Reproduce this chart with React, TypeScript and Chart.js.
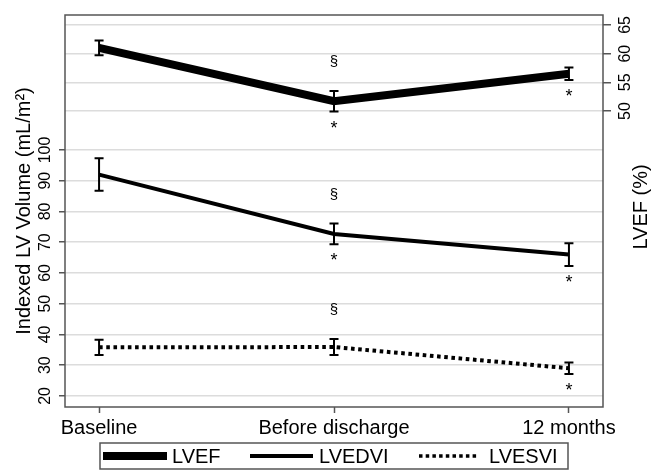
import React, { useEffect, useRef } from "react";
import { Chart, registerables } from "chart.js";

Chart.register(...registerables);

// ---- data ----
const categories = ["Baseline", "Before discharge", "12 months"];
const seriesNames = ["LVEF", "LVEDVI", "LVESVI"];

const lvef = [61.0, 51.7, 56.5];
const lvefErr = [1.3, 1.8, 1.1];
const lvedvi = [92.0, 72.7, 66.0];
const lvedviErr = [5.3, 3.4, 3.7];
const lvesvi = [35.8, 35.9, 29.0];
const lvesviErr = [2.5, 2.6, 1.9];

const leftTicks = [20, 30, 40, 50, 60, 70, 80, 90, 100];
const rightTicks = [50, 55, 60, 65];

// significance markers: "§" above, "*" below
const lvefSection = [false, true, false];
const lvefStar = [false, true, true];
const lvedviSection = [false, true, false];
const lvedviStar = [false, true, true];
const lvesviSection = [false, true, false];
const lvesviStar = [false, false, true];

const FONT = '"Liberation Sans", Arial, Helvetica, sans-serif';

const errors = [lvefErr, lvedviErr, lvesviErr];
const sections = [lvefSection, lvedviSection, lvesviSection];
const stars = [lvefStar, lvedviStar, lvesviStar];

const overlay = {
  id: "overlay",
  afterDatasetsDraw(chart: any) {
    const ctx = chart.ctx;
    const xs = chart.scales.x;
    chart.data.datasets.forEach((ds: any, di: number) => {
      const ys = chart.scales[ds.yAxisID];
      ds.data.forEach((p: any, i: number) => {
        const e = errors[di][i];
        const x = xs.getPixelForValue(p.x);
        const top = ys.getPixelForValue(p.y + e);
        const bot = ys.getPixelForValue(p.y - e);
        ctx.save();
        ctx.strokeStyle = "#000";
        ctx.lineWidth = 2;
        ctx.setLineDash([]);
        ctx.beginPath();
        ctx.moveTo(x, top);
        ctx.lineTo(x, bot);
        ctx.moveTo(x - 4.5, top);
        ctx.lineTo(x + 4.5, top);
        ctx.moveTo(x - 4.5, bot);
        ctx.lineTo(x + 4.5, bot);
        ctx.stroke();
        ctx.fillStyle = "#000";
        ctx.textAlign = "center";
        ctx.textBaseline = "middle";
        if (sections[di][i]) {
          ctx.font = `15px ${FONT}`;
          ctx.fillText("§", x, top - 29);
        }
        if (stars[di][i]) {
          ctx.font = `18px ${FONT}`;
          ctx.fillText("*", x, bot + 17);
        }
        ctx.restore();
      });
    });
  },
  afterDraw(chart: any) {
    const ctx = chart.ctx;
    const a = chart.chartArea;
    const yl = chart.scales.y;
    const yr = chart.scales.y1;
    ctx.save();
    // frame
    ctx.strokeStyle = "#555";
    ctx.lineWidth = 1.5;
    ctx.strokeRect(a.left, a.top, a.right - a.left, a.bottom - a.top);

    ctx.fillStyle = "#000";
    ctx.textAlign = "center";
    ctx.textBaseline = "middle";
    // left tick labels (rotated)
    ctx.font = `16px ${FONT}`;
    yl.ticks.forEach((t: any) => {
      const y = yl.getPixelForValue(t.value);
      ctx.save();
      ctx.translate(46, y);
      ctx.rotate(-Math.PI / 2);
      ctx.fillText(String(t.value), 0, 0);
      ctx.restore();
    });
    yr.ticks.forEach((t: any) => {
      const y = yr.getPixelForValue(t.value);
      ctx.save();
      ctx.translate(626, y);
      ctx.rotate(-Math.PI / 2);
      ctx.fillText(String(t.value), 0, 0);
      ctx.restore();
    });
    // titles
    ctx.font = `20px ${FONT}`;
    ctx.save();
    ctx.translate(24, (a.top + a.bottom) / 2);
    ctx.rotate(-Math.PI / 2);
    ctx.fillText("Indexed LV Volume (mL/m²)", 0, 0);
    ctx.restore();
    ctx.save();
    ctx.translate(641, (a.top + a.bottom) / 2 - 4);
    ctx.rotate(-Math.PI / 2);
    ctx.fillText("LVEF (%)", 0, 0);
    ctx.restore();

    // legend
    const lx = 100, ly = 443, lw = 468, lh = 26;
    ctx.strokeStyle = "#555";
    ctx.lineWidth = 1.5;
    ctx.strokeRect(lx, ly, lw, lh);
    const cy = ly + 13;
    const items = [
      { x0: 103, x1: 167, tx: 172, w: 8, dash: [] as number[] },
      { x0: 250, x1: 313, tx: 319, w: 4, dash: [] as number[] },
      { x0: 419, x1: 478, tx: 489, w: 3.5, dash: [3.5, 3.2] },
    ];
    items.forEach((it, i) => {
      ctx.strokeStyle = "#000";
      ctx.lineWidth = it.w;
      ctx.setLineDash(it.dash);
      ctx.beginPath();
      ctx.moveTo(it.x0, cy);
      ctx.lineTo(it.x1, cy);
      ctx.stroke();
      ctx.setLineDash([]);
      ctx.textAlign = "left";
      ctx.font = `20px ${FONT}`;
      ctx.fillText(seriesNames[i], it.tx, cy + 1);
    });
    ctx.restore();
  },
};

export default function App() {
  const ref = useRef<HTMLCanvasElement>(null);
  useEffect(() => {
    document.body.style.margin = "0";
    const toPts = (arr: number[]) => arr.map((v, i) => ({ x: i, y: v }));
    const chart = new Chart(ref.current as HTMLCanvasElement, {
      type: "line",
      data: {
        datasets: [
          {
            label: seriesNames[0],
            data: toPts(lvef),
            yAxisID: "y1",
            borderColor: "#000",
            borderWidth: 8,
            pointRadius: 0,
            fill: false,
            tension: 0,
          },
          {
            label: seriesNames[1],
            data: toPts(lvedvi),
            yAxisID: "y",
            borderColor: "#000",
            borderWidth: 4,
            pointRadius: 0,
            fill: false,
            tension: 0,
          },
          {
            label: seriesNames[2],
            data: toPts(lvesvi),
            yAxisID: "y",
            borderColor: "#000",
            borderWidth: 4,
            borderDash: [3.6, 3.6],
            pointRadius: 0,
            fill: false,
            tension: 0,
          },
        ],
      },
      options: {
        responsive: false,
        animation: false,
        devicePixelRatio: 1,
        layout: { padding: { top: 15, left: 0, right: 0, bottom: 0 } },
        plugins: { legend: { display: false }, tooltip: { enabled: false } },
        scales: {
          x: {
            type: "linear",
            min: -0.145,
            max: 2.145,
            afterBuildTicks: (s: any) => {
              s.ticks = categories.map((_, i) => ({ value: i }));
            },
            afterFit: (s: any) => {
              s.height = 63;
            },
            ticks: {
              callback: (v: any) => categories[Math.round(v)],
              font: { size: 20, family: FONT },
              color: "#000",
              maxRotation: 0,
              minRotation: 0,
              autoSkip: false,
              padding: 3,
            },
            grid: {
              drawOnChartArea: false,
              drawTicks: true,
              tickLength: 6,
              tickColor: "#555",
              tickWidth: 1.5,
            },
            border: { display: false },
          },
          y: {
            type: "linear",
            position: "left",
            min: 16.4,
            max: 143.9,
            afterBuildTicks: (s: any) => {
              s.ticks = leftTicks.map((v) => ({ value: v }));
            },
            afterFit: (s: any) => {
              s.width = 65;
            },
            ticks: { display: false },
            grid: {
              color: "#dcdcdc",
              lineWidth: 1.5,
              tickLength: 6,
              tickColor: "#555",
              tickWidth: 1.5,
            },
            border: { display: false },
          },
          y1: {
            type: "linear",
            position: "right",
            min: -1.63,
            max: 66.74,
            afterBuildTicks: (s: any) => {
              s.ticks = rightTicks.map((v) => ({ value: v }));
            },
            afterFit: (s: any) => {
              s.width = 49;
            },
            ticks: { display: false },
            grid: {
              color: "#dcdcdc",
              lineWidth: 1.5,
              tickLength: 8,
              tickColor: "#555",
              tickWidth: 1.5,
            },
            border: { display: false },
          },
        },
      },
      plugins: [overlay],
    } as any);
    return () => chart.destroy();
  }, []);
  return (
    <div style={{ width: 652, height: 470, background: "#fff" }}>
      <canvas ref={ref} width={652} height={470} style={{ display: "block" }} />
    </div>
  );
}
